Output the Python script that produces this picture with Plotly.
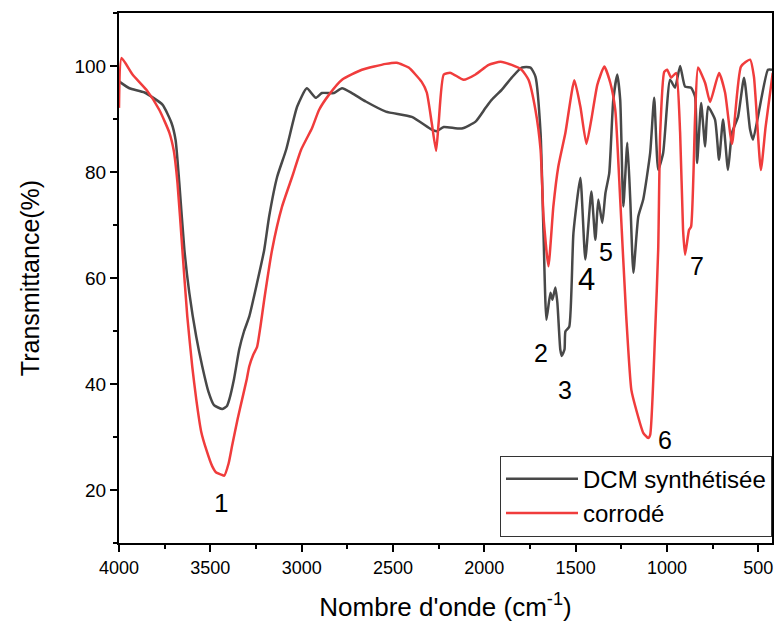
import plotly.graph_objects as go

# DCM synthétisée (dark curve)
dcm_x = [4000, 3943, 3860, 3762, 3713, 3690, 3670, 3642, 3615, 3577, 3544, 3510, 3480, 3435, 3410, 3396, 3370,
         3342, 3315, 3287, 3244, 3205, 3178, 3134, 3085, 3025, 2972, 2923, 2889, 2823, 2779, 2725, 2649, 2539,
         2397, 2288, 2261, 2222, 2124, 2048, 1993, 1960, 1905, 1850, 1796, 1747, 1720, 1692, 1676, 1660, 1638,
         1627, 1611, 1600, 1584, 1576, 1561, 1556, 1535, 1512, 1474, 1447, 1414, 1392, 1376, 1354, 1337, 1316,
         1294, 1272, 1256, 1239, 1217, 1201, 1184, 1157, 1130, 1092, 1070, 1048, 1021, 983, 956, 928, 901, 868,
         846, 835, 813, 791, 775, 737, 715, 693, 666, 644, 611, 578, 545, 529, 502, 447, 425]
dcm_y = [97.1, 95.8, 95.0, 92.7, 89.3, 86.0, 78.0, 65.3, 57.2, 48.9, 43.3, 38.5, 36.0, 35.3, 35.8, 37.1, 41.0,
         46.5, 50.0, 52.7, 59.1, 65.3, 71.6, 79.1, 84.2, 92.3, 95.8, 94.0, 94.9, 94.9, 95.8, 94.9, 93.3, 91.4,
         90.4, 88.0, 87.7, 88.5, 88.2, 89.5, 92.1, 93.6, 95.5, 97.8, 99.7, 99.7, 98.0, 87.4, 68.5, 52.1, 57.2,
         55.9, 58.2, 55.3, 46.5, 45.3, 46.5, 49.9, 50.8, 68.5, 78.9, 63.5, 76.3, 67.2, 74.8, 70.4, 76.0, 79.8,
         93.6, 98.4, 93.6, 73.5, 85.5, 74.8, 61.0, 71.6, 74.8, 83.6, 94.0, 80.4, 83.6, 97.4, 95.9, 100.0, 96.1,
         95.9, 94.2, 81.7, 93.0, 84.8, 92.3, 89.9, 82.3, 89.9, 80.4, 87.4, 90.4, 97.8, 88.0, 86.1, 90.4, 99.3,
         99.3]

# corrodé (red curve)
cor_x = [4000, 3986, 3926, 3850, 3779, 3724, 3700, 3680, 3653, 3626, 3599, 3577, 3550, 3522, 3490, 3468, 3440,
         3424, 3400, 3380, 3350, 3326, 3300, 3287, 3265, 3244, 3225, 3205, 3162, 3107, 3052, 3003, 2943, 2905,
         2850, 2779, 2670, 2539, 2479, 2414, 2343, 2315, 2288, 2264, 2250, 2222, 2184, 2113, 2048, 1976, 1911,
         1850, 1796, 1758, 1720, 1692, 1676, 1649, 1622, 1595, 1556, 1507, 1474, 1441, 1414, 1381, 1343, 1310,
         1283, 1256, 1223, 1195, 1168, 1130, 1103, 1092, 1065, 1048, 1037, 1015, 999, 977, 950, 928, 912, 901,
         879, 868, 846, 830, 791, 764, 715, 682, 644, 595, 545, 524, 486, 460, 421]
cor_y = [92.1, 101.5, 98.4, 95.5, 91.7, 87.4, 84.0, 78.0, 65.3, 52.7, 43.3, 37.1, 31.0, 27.6, 24.5, 23.3, 22.9,
         22.7, 25.0, 28.5, 33.5, 37.1, 41.0, 43.3, 45.5, 47.0, 51.0, 55.9, 65.3, 73.5, 79.1, 84.2, 88.3, 91.7,
         94.6, 97.4, 99.3, 100.4, 100.6, 99.7, 97.0, 95.0, 89.3, 84.0, 89.3, 98.4, 98.7, 97.4, 98.4, 100.2,
         100.8, 100.2, 99.3, 97.4, 91.7, 84.2, 71.6, 62.2, 73.5, 81.0, 87.4, 97.3, 92.3, 85.3, 89.9, 96.5, 99.9,
         96.8, 91.7, 74.8, 52.7, 38.9, 35.1, 30.8, 29.8, 30.4, 49.6, 65.4, 87.4, 98.9, 99.3, 97.8, 98.7, 87.4,
         69.1, 64.4, 69.1, 69.7, 90.4, 99.7, 96.8, 93.2, 98.7, 95.0, 85.3, 99.9, 101.2, 98.0, 80.4, 88.5, 98.7]

# peak labels
lab_text = ["1", "2", "3", "4", "5", "6", "7"]
lab_x = [3440, 1687, 1556, 1441, 1332, 1010, 835]
lab_y = [17.6, 45.9, 38.9, 59.7, 65.0, 29.5, 62.3]
lab_size = [26, 25, 25, 31, 25, 25, 25]

x_ticks = [4000, 3500, 3000, 2500, 2000, 1500, 1000, 500]
y_ticks = [20, 40, 60, 80, 100]

FONT = "Liberation Sans, Arial, sans-serif"

fig = go.Figure()
fig.add_trace(go.Scatter(x=dcm_x, y=dcm_y, mode="lines", name="DCM synthétisée",
                         line=dict(color="#484848", width=2.5, shape="spline", smoothing=0.5)))
fig.add_trace(go.Scatter(x=cor_x, y=cor_y, mode="lines", name="corrodé",
                         line=dict(color="#f03c3c", width=2.5, shape="spline", smoothing=0.5)))

for t, x, y, s in zip(lab_text, lab_x, lab_y, lab_size):
    fig.add_annotation(x=x, y=y, text=t, showarrow=False, xref="x", yref="y",
                       font=dict(size=s, color="black", family=FONT))

fig.update_layout(
    width=777, height=628,
    margin=dict(l=119, r=3, t=13, b=85),
    paper_bgcolor="white", plot_bgcolor="white",
    font=dict(family=FONT, color="black"),
    showlegend=True,
    legend=dict(x=1, xanchor="right", y=0.012, yanchor="bottom",
                bordercolor="#333333", borderwidth=1, bgcolor="white",
                font=dict(size=24, family=FONT), itemwidth=72,
                tracegroupgap=0),
)
fig.update_xaxes(
    range=[4000, 425], tickvals=x_ticks, ticktext=[str(v) for v in x_ticks],
    ticks="outside", ticklen=7, tickwidth=1.5, tickcolor="black",
    minor=dict(dtick=250, tick0=0, ticks="outside", ticklen=4, tickwidth=1.5, tickcolor="black"),
    showline=True, linecolor="black", linewidth=2, mirror=True,
    showgrid=False, zeroline=False,
    tickfont=dict(size=18, family=FONT),
    title=dict(text="Nombre d'onde (cm<sup>-1</sup>)", font=dict(size=26, family=FONT), standoff=21),
)
fig.update_yaxes(
    range=[10, 110], tickvals=y_ticks, ticktext=[str(v) for v in y_ticks],
    ticks="outside", ticklen=7, tickwidth=1.5, tickcolor="black",
    minor=dict(dtick=10, tick0=0, ticks="outside", ticklen=4, tickwidth=1.5, tickcolor="black"),
    showline=True, linecolor="black", linewidth=2, mirror=True,
    showgrid=False, zeroline=False,
    tickfont=dict(size=19, family=FONT),
    title=dict(text="Transmittance(%)", font=dict(size=25, family=FONT), standoff=28),
)

fig.write_html("out.html")
